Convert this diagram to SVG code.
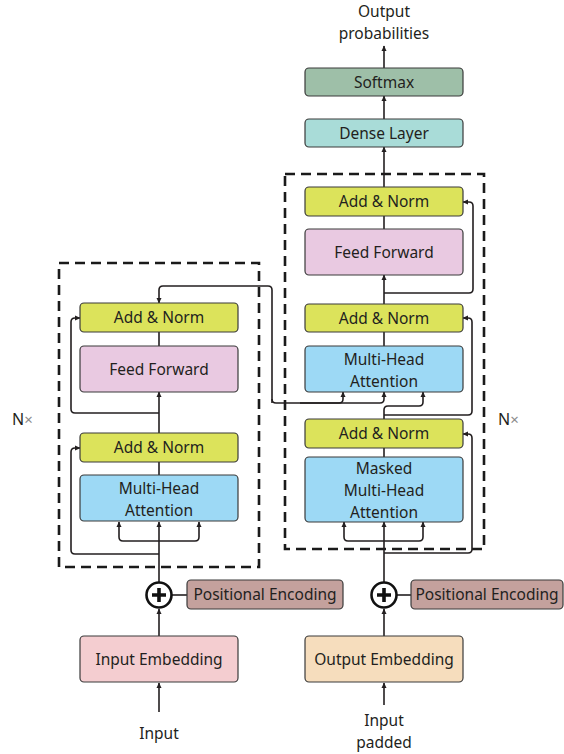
<svg xmlns="http://www.w3.org/2000/svg" width="564" height="754" viewBox="0 0 564 754">
<defs>
<marker id="ah" markerUnits="userSpaceOnUse" markerWidth="8" markerHeight="8" refX="5" refY="3" orient="auto">
<path d="M0,0.5 L5.5,3 L0,5.5 Z" fill="#231f20"/>
</marker>
<style>
.box{stroke:#3a3a3a;stroke-width:1.2}
.an{fill:#dce35b}
.ff{fill:#e9c9e1}
.mha{fill:#9dd9f5}
.t{font-family:"Noto Sans","Open Sans",sans-serif;font-size:15.5px;fill:#231f20;text-anchor:middle}
.dash{fill:none;stroke:#1a1a1a;stroke-width:2.6;stroke-dasharray:10 6}
.ln{fill:none;stroke:#231f20;stroke-width:1.6}
.ar{marker-end:url(#ah)}
.nx{font-family:"Noto Sans","Open Sans",sans-serif;font-size:16px;fill:#231f20}
</style>
</defs>
<rect width="564" height="754" fill="#ffffff"/>

<!-- dashed blocks -->
<rect class="dash" x="59" y="263" width="200" height="304"/>
<rect class="dash" x="285" y="174" width="199" height="375"/>
<text class="nx" x="12" y="425">N<tspan fill="#8a8a8a" font-size="15">×</tspan></text>
<text class="nx" x="498" y="425">N<tspan fill="#8a8a8a" font-size="15">×</tspan></text>

<g id="connectors">
<!-- encoder -->
<path class="ln ar" d="M159 712 V683"/>
<path class="ln ar" d="M159 636 V609"/>
<path class="ln" d="M172 595 H187"/>
<path class="ln ar" d="M159 582 V522"/>
<path class="ln ar" d="M159 541 H123 Q119 541 119 537 V522"/>
<path class="ln ar" d="M159 541 H195 Q199 541 199 537 V522"/>
<path class="ln ar" d="M159 554 H75 Q71 554 71 550 V452 Q71 448 75 448 H80"/>
<path class="ln" d="M159 475 V462"/>
<path class="ln ar" d="M159 433 V392"/>
<path class="ln ar" d="M159 413 H75 Q71 413 71 409 V322 Q71 318 75 318 H80"/>
<path class="ln" d="M159 346 V332"/>
<!-- cross connection -->
<path class="ln ar" d="M272 403 V290 Q272 286 268 286 H163 Q159 286 159 290 V303"/>
<path class="ln ar" d="M272 399 Q272 403 276 403 H339 Q343 403 343 399 V392"/>
<path class="ln ar" d="M300 403 H380 Q384 403 384 399 V392"/>
<path class="ln ar" d="M384 419 V410 Q384 406 388 406 H419 Q423 406 423 402 V392"/>
<!-- decoder -->
<path class="ln ar" d="M384 705 V683"/>
<path class="ln ar" d="M384 636 V609"/>
<path class="ln" d="M397 595 H411"/>
<path class="ln ar" d="M384 582 V522"/>
<path class="ln ar" d="M384 541 H348 Q344 541 344 537 V522"/>
<path class="ln ar" d="M384 541 H419 Q423 541 423 537 V522"/>
<path class="ln ar" d="M384 553 H468 Q472 553 472 549 V438 Q472 434 468 434 H463"/>
<path class="ln" d="M384 457 V448"/>
<path class="ln ar" d="M384 415 H468 Q472 415 472 411 V322 Q472 318 468 318 H463"/>
<path class="ln" d="M384 346 V332"/>
<path class="ln ar" d="M384 304 V275"/>
<path class="ln ar" d="M384 293 H469 Q473 293 473 289 V206 Q473 202 469 202 H463"/>
<path class="ln" d="M384 229 V216"/>
<path class="ln ar" d="M384 187 V147"/>
<path class="ln ar" d="M384 119 V96"/>
<path class="ln ar" d="M384 68 V46"/>
</g>

<!-- encoder nodes -->
<g id="enc-addnorm2"><rect class="box an" x="80" y="303" width="158" height="29" rx="4"/><text class="t" x="159" y="323">Add &amp; Norm</text></g>
<g id="enc-ff"><rect class="box ff" x="80" y="346" width="158" height="46" rx="4"/><text class="t" x="159" y="374.5">Feed Forward</text></g>
<g id="enc-addnorm1"><rect class="box an" x="80" y="433" width="158" height="29" rx="4"/><text class="t" x="159" y="453">Add &amp; Norm</text></g>
<g id="enc-mha"><rect class="box mha" x="80" y="475" width="158" height="46" rx="4"/><text class="t" x="159" y="494">Multi-Head</text><text class="t" x="159" y="515.5">Attention</text></g>
<g id="enc-plus"><circle cx="159" cy="595" r="12.5" fill="#fff" stroke="#111" stroke-width="2.6"/><path d="M152 595 H166 M159 588 V602" stroke="#111" stroke-width="3.6"/></g>
<g id="enc-pe"><rect class="box" fill="#c4a19d" x="187" y="580" width="156" height="29" rx="4"/><text class="t" x="265" y="600">Positional Encoding</text></g>
<g id="input-emb"><rect class="box" fill="#f4cdd0" x="80" y="636" width="158" height="46" rx="4"/><text class="t" x="159" y="664.5">Input Embedding</text></g>
<g id="input"><text class="t" x="159" y="739">Input</text></g>

<!-- decoder nodes -->
<g id="output-prob"><text class="t" x="384" y="16.5">Output</text><text class="t" x="384" y="38.5">probabilities</text></g>
<g id="softmax"><rect class="box" fill="#9ebfa8" x="305" y="68" width="158" height="28" rx="4"/><text class="t" x="384" y="87.5">Softmax</text></g>
<g id="dense"><rect class="box" fill="#a9dcd8" x="305" y="119" width="158" height="28" rx="4"/><text class="t" x="384" y="138.5">Dense Layer</text></g>
<g id="dec-addnorm3"><rect class="box an" x="305" y="187" width="158" height="29" rx="4"/><text class="t" x="384" y="207">Add &amp; Norm</text></g>
<g id="dec-ff"><rect class="box ff" x="305" y="229" width="158" height="46" rx="4"/><text class="t" x="384" y="257.5">Feed Forward</text></g>
<g id="dec-addnorm2"><rect class="box an" x="305" y="304" width="158" height="28" rx="4"/><text class="t" x="384" y="323.5">Add &amp; Norm</text></g>
<g id="dec-mha"><rect class="box mha" x="305" y="346" width="158" height="46" rx="4"/><text class="t" x="384" y="365">Multi-Head</text><text class="t" x="384" y="386.5">Attention</text></g>
<g id="dec-addnorm1"><rect class="box an" x="305" y="419" width="158" height="29" rx="4"/><text class="t" x="384" y="439">Add &amp; Norm</text></g>
<g id="dec-masked"><rect class="box mha" x="305" y="457" width="158" height="65" rx="4"/><text class="t" x="384" y="474">Masked</text><text class="t" x="384" y="496">Multi-Head</text><text class="t" x="384" y="518">Attention</text></g>
<g id="dec-plus"><circle cx="384" cy="595" r="12.5" fill="#fff" stroke="#111" stroke-width="2.6"/><path d="M377 595 H391 M384 588 V602" stroke="#111" stroke-width="3.6"/></g>
<g id="dec-pe"><rect class="box" fill="#c4a19d" x="411" y="580" width="152" height="29" rx="4"/><text class="t" x="487" y="600">Positional Encoding</text></g>
<g id="output-emb"><rect class="box" fill="#f6ddbd" x="305" y="636" width="158" height="46" rx="4"/><text class="t" x="384" y="664.5">Output Embedding</text></g>
<g id="input-padded"><text class="t" x="384" y="726">Input</text><text class="t" x="384" y="748">padded</text></g>
</svg>
